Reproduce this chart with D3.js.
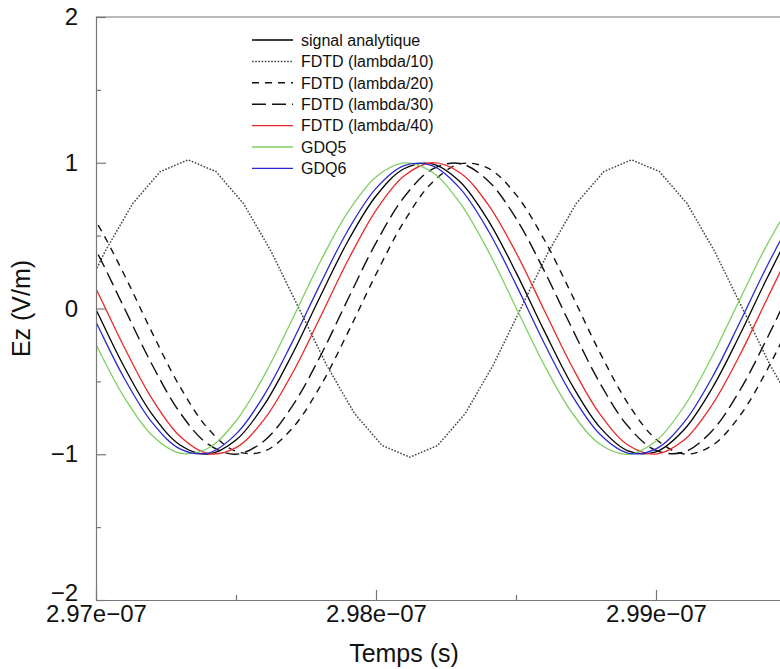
<!DOCTYPE html>
<html>
<head>
<meta charset="utf-8">
<script src="https://cdn.jsdelivr.net/npm/d3@7"></script>
<style>
  body { margin: 0; background: #fff; }
  svg { display: block; }
  text { font-family: "Liberation Sans", Arial, sans-serif; }
</style>
</head>
<body>
<div id="chart"></div>
<script>
// Chart size
const width = 780;
const height = 669;
const margin = { top: 17, left: 96, bottom: 69 };

// Shared sample times (s) for the smooth curves
const times = [
  2.969e-7, 2.970e-7, 2.971e-7, 2.972e-7, 2.973e-7, 2.974e-7, 2.975e-7, 2.976e-7,
  2.977e-7, 2.978e-7, 2.979e-7, 2.980e-7, 2.981e-7, 2.982e-7, 2.983e-7, 2.984e-7,
  2.985e-7, 2.986e-7, 2.987e-7, 2.988e-7, 2.989e-7, 2.990e-7, 2.991e-7, 2.992e-7,
  2.993e-7, 2.994e-7, 2.995e-7, 2.996e-7, 2.997e-7
];

// Series values (V/m)
const analytique = [
  0.384, -0.007, -0.398, -0.725, -0.936, -0.999, -0.903, -0.663, -0.317, 0.079,
  0.463, 0.772, 0.959, 0.993, 0.870, 0.607, 0.248, -0.150, -0.525, -0.816,
  -0.977, -0.983, -0.832, -0.549, -0.178, 0.221, 0.585, 0.855, 0.990
];
const fdtd20 = [
  0.863, 0.596, 0.235, -0.164, -0.537, -0.824, -0.980, -0.980, -0.824, -0.537,
  -0.164, 0.235, 0.596, 0.863, 0.992, 0.963, 0.781, 0.475, 0.093, -0.304,
  -0.652, -0.897, -0.998, -0.941, -0.734, -0.410, -0.021, 0.372, 0.705
];
const fdtd30 = [
  0.725, 0.398, 0.007, -0.384, -0.715, -0.931, -1.000, -0.909, -0.673, -0.331,
  0.065, 0.450, 0.763, 0.955, 0.995, 0.877, 0.618, 0.262, -0.136, -0.513,
  -0.808, -0.974, -0.985, -0.840, -0.560, -0.192, 0.207, 0.573, 0.848
];
const fdtd40 = [
  0.512, 0.136, -0.262, -0.619, -0.877, -0.995, -0.955, -0.763, -0.449, -0.064,
  0.331, 0.674, 0.909, 1.000, 0.931, 0.715, 0.384, -0.008, -0.398, -0.725,
  -0.937, -0.999, -0.903, -0.662, -0.317, 0.079, 0.463, 0.773, 0.959
];
const gdq5 = [
  0.150, -0.248, -0.607, -0.870, -0.993, -0.959, -0.772, -0.462, -0.079, 0.317,
  0.663, 0.903, 0.999, 0.936, 0.724, 0.397, 0.007, -0.384, -0.715, -0.931,
  -1.000, -0.909, -0.673, -0.331, 0.065, 0.450, 0.763, 0.955, 0.995
];
const gdq6 = [
  0.304, -0.093, -0.475, -0.781, -0.963, -0.992, -0.862, -0.596, -0.234, 0.164,
  0.537, 0.824, 0.980, 0.980, 0.824, 0.537, 0.164, -0.235, -0.596, -0.863,
  -0.992, -0.963, -0.781, -0.475, -0.093, 0.304, 0.652, 0.897, 0.998
];

// FDTD lambda/10 has its own coarse time steps
const times10 = [
  2.96933e-7, 2.97032e-7, 2.97131e-7, 2.97230e-7, 2.97329e-7, 2.97428e-7, 2.97527e-7,
  2.97626e-7, 2.97725e-7, 2.97824e-7, 2.97923e-7, 2.98022e-7, 2.98121e-7, 2.98220e-7,
  2.98319e-7, 2.98418e-7, 2.98517e-7, 2.98616e-7, 2.98715e-7, 2.98814e-7, 2.98913e-7,
  2.99012e-7, 2.99111e-7, 2.99210e-7, 2.99309e-7, 2.99408e-7, 2.99507e-7
];
const fdtd10 = [
  0.00, 0.39, 0.72, 0.94, 1.02, 0.94, 0.72, 0.39, 0.00, -0.39, -0.72, -0.94, -1.02, -0.94,
  -0.72, -0.39, 0.00, 0.39, 0.72, 0.94, 1.02, 0.94, 0.72, 0.39, 0.00, -0.39, -0.72
];

// Axis ticks
const xMajorTicks = [2.97e-7, 2.98e-7, 2.99e-7];
const xMajorLabels = ["2.97e\u221207", "2.98e\u221207", "2.99e\u221207"];
const xMinorTicks = [2.975e-7, 2.985e-7, 2.995e-7];
const yMajorTicks = [-2, -1, 0, 1, 2];
const yMajorLabels = ["\u22122", "\u22121", "0", "1", "2"];
const yMinorTicks = [-1.5, -0.5, 0.5, 1.5];

// Legend names
const seriesNames = [
  "signal analytique", "FDTD (lambda/10)", "FDTD (lambda/20)", "FDTD (lambda/30)",
  "FDTD (lambda/40)", "GDQ5", "GDQ6"
];

// Build series (data + styling)
const series = [
  { name: seriesNames[0], t: times, v: analytique, color: "#000", dash: null, w: 1.3, curve: d3.curveCatmullRom },
  { name: seriesNames[1], t: times10, v: fdtd10, color: "#444", dash: "1.6,1.6", w: 1.5, curve: d3.curveLinear },
  { name: seriesNames[2], t: times, v: fdtd20, color: "#111", dash: "7,6", w: 1.4, curve: d3.curveCatmullRom },
  { name: seriesNames[3], t: times, v: fdtd30, color: "#111", dash: "14,6", w: 1.4, curve: d3.curveCatmullRom },
  { name: seriesNames[4], t: times, v: fdtd40, color: "#e8292b", dash: null, w: 1.3, curve: d3.curveCatmullRom },
  { name: seriesNames[5], t: times, v: gdq5, color: "#7fcf63", dash: null, w: 1.3, curve: d3.curveCatmullRom },
  { name: seriesNames[6], t: times, v: gdq6, color: "#2a2ad0", dash: null, w: 1.3, curve: d3.curveCatmullRom }
];

const svg = d3.select("#chart")
  .append("svg")
  .attr("width", width)
  .attr("height", height);

const plotBottom = height - margin.bottom;

// The plot extends beyond the right edge of the picture
const x = d3.scaleLinear()
  .domain([2.97e-7, 3.0e-7])
  .range([margin.left, margin.left + 840]);

const y = d3.scaleLinear()
  .domain([-2, 2])
  .range([plotBottom, margin.top]);

svg.append("defs").append("clipPath")
  .attr("id", "plot-clip")
  .append("rect")
  .attr("x", margin.left)
  .attr("y", margin.top)
  .attr("width", 840)
  .attr("height", plotBottom - margin.top);

// Curves
const plot = svg.append("g").attr("clip-path", "url(#plot-clip)");

series.forEach(s => {
  const line = d3.line()
    .x((d, i) => x(s.t[i]))
    .y(d => y(d))
    .curve(s.curve);
  plot.append("path")
    .datum(s.v)
    .attr("fill", "none")
    .attr("stroke", s.color)
    .attr("stroke-width", s.w)
    .attr("stroke-dasharray", s.dash)
    .attr("d", line);
});

// Frame and axes
const axisColor = "#777";

svg.append("line")
  .attr("x1", margin.left).attr("x2", margin.left + 840)
  .attr("y1", margin.top).attr("y2", margin.top)
  .attr("stroke", axisColor).attr("stroke-width", 1.2);

svg.append("g")
  .attr("transform", `translate(0,${plotBottom})`)
  .call(d3.axisBottom(x)
    .tickValues(xMajorTicks)
    .tickFormat((d, i) => xMajorLabels[i])
    .tickSize(-10)
    .tickSizeOuter(0)
    .tickPadding(5));

svg.append("g")
  .attr("transform", `translate(0,${plotBottom})`)
  .call(d3.axisBottom(x)
    .tickValues(xMinorTicks)
    .tickFormat("")
    .tickSize(-5)
    .tickSizeOuter(0))
  .select(".domain").remove();

const yAxis = svg.append("g")
  .attr("transform", `translate(${margin.left},0)`)
  .call(d3.axisLeft(y)
    .tickValues(yMajorTicks)
    .tickFormat((d, i) => yMajorLabels[i])
    .tickSize(-10)
    .tickSizeOuter(0)
    .tickPadding(18));

// the bottom label sits a little higher, above the first time label
yAxis.selectAll(".tick text")
  .filter(d => d === -2)
  .attr("dy", "0.02em");

svg.append("g")
  .attr("transform", `translate(${margin.left},0)`)
  .call(d3.axisLeft(y)
    .tickValues(yMinorTicks)
    .tickFormat("")
    .tickSize(-5)
    .tickSizeOuter(0))
  .select(".domain").remove();

svg.selectAll(".domain, .tick line")
  .attr("stroke", axisColor)
  .attr("stroke-width", 1.2);

svg.selectAll(".tick text")
  .attr("font-size", 24)
  .attr("fill", "#111")
  .style("font-family", "'Liberation Sans', Arial, sans-serif");

// Axis titles
svg.append("text")
  .attr("x", 404)
  .attr("y", 662)
  .attr("text-anchor", "middle")
  .attr("font-size", 25)
  .attr("fill", "#111")
  .text("Temps (s)");

svg.append("text")
  .attr("transform", `translate(30,${y(0)}) rotate(-90)`)
  .attr("text-anchor", "middle")
  .attr("font-size", 25)
  .attr("fill", "#111")
  .text("Ez (V/m)");

// Legend
const legend = svg.append("g").attr("transform", "translate(252,40)");
const rowH = 21.4;

series.forEach((s, i) => {
  const row = legend.append("g").attr("transform", `translate(0,${i * rowH})`);
  row.append("line")
    .attr("x1", 0).attr("x2", 41)
    .attr("y1", 0).attr("y2", 0)
    .attr("stroke", s.color)
    .attr("stroke-width", s.w)
    .attr("stroke-dasharray", s.dash);
  row.append("text")
    .attr("x", 49)
    .attr("y", 0)
    .attr("dy", "0.36em")
    .attr("font-size", 16)
    .attr("fill", "#111")
    .text(s.name);
});
</script>
</body>
</html>
